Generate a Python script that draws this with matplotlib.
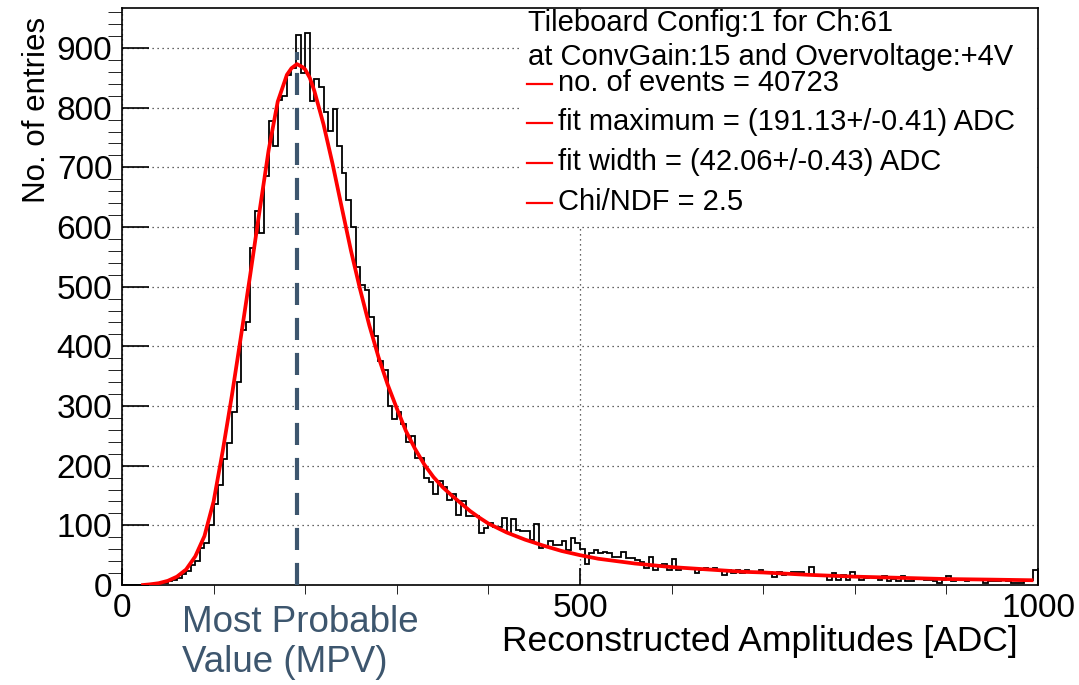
import matplotlib.pyplot as plt
import numpy as np
from matplotlib.patches import Rectangle

plt.rcParams['font.family'] = ['Liberation Sans', 'DejaVu Sans']

# histogram: 200 bins of 5 ADC from 0 to 1000
bin_width = 5
counts = [
    0, 0, 0, 0, 0, 1, 2, 2, 3, 4,
    6, 8, 11, 18, 24, 34, 40, 62, 70, 100,
    136, 168, 212, 238, 290, 340, 428, 440, 565, 626,
    590, 686, 778, 735, 812, 820, 855, 866, 921, 858,
    925, 811, 848, 834, 792, 761, 797, 735, 690, 645,
    600, 533, 502, 494, 449, 418, 375, 360, 300, 279,
    290, 270, 239, 250, 213, 213, 180, 172, 153, 174,
    165, 143, 153, 118, 140, 116, 115, 116, 87, 96,
    104, 98, 98, 112, 87, 111, 93, 90, 90, 76,
    103, 62, 66, 73, 67, 67, 73, 59, 79, 70,
    61, 36, 53, 59, 53, 56, 53, 47, 47, 56,
    46, 45, 42, 39, 28, 47, 25, 34, 36, 25,
    43, 25, 28, 28, 28, 20, 25, 28, 25, 28,
    25, 17, 25, 20, 25, 20, 25, 22, 20, 25,
    20, 22, 14, 22, 17, 20, 21, 21, 21, 17,
    31, 17, 17, 17, 8, 20, 8, 17, 8, 22,
    14, 8, 11, 13, 13, 8, 15, 7, 10, 7,
    15, 7, 6, 10, 10, 8, 8, 7, 4, 8,
    15, 7, 8, 10, 6, 10, 8, 8, 4, 7,
    7, 6, 8, 7, 4, 3, 3, 8, 8, 25,
]

# fitted curve
fit_x = [23, 30, 40, 50, 60, 70, 80, 90, 100, 110, 120, 130, 140, 150, 160,
         170, 180, 185, 191, 197, 200, 205, 210, 220, 230, 240, 250, 260, 270,
         280, 290, 300, 310, 320, 330, 340, 350, 360, 370, 380, 390, 400, 420,
         440, 460, 480, 500, 520, 540, 560, 580, 600, 620, 640, 660, 680, 700,
         750, 800, 850, 900, 950, 993]
fit_y = [0, 1, 3, 7, 14, 26, 48, 82, 140, 225, 318, 418, 520, 625, 728,
         810, 855, 866, 873, 868, 864, 850, 828, 772, 705, 632, 560, 495, 435,
         382, 336, 296, 258, 228, 202, 181, 164, 150, 137, 124, 113, 103, 88,
         76, 66, 57, 50, 44, 40, 36, 33, 30, 28, 26, 24, 22, 21,
         17, 14, 12, 10, 9, 8]

mpv = 191.13
mpv_top = 893

title_lines = ['Tileboard Config:1 for Ch:61', 'at ConvGain:15 and Overvoltage:+4V']
entry_lines = ['no. of events = 40723',
               'fit maximum = (191.13+/-0.41) ADC',
               'fit width = (42.06+/-0.43) ADC',
               'Chi/NDF = 2.5']

W, H = 1079, 685
fig = plt.figure(figsize=(W / 100, H / 100), dpi=100)
ax = fig.add_axes([122 / W, 1 - 585 / H, 916 / W, 577 / H])

edges = np.arange(len(counts) + 1) * bin_width
ax.stairs(counts, edges, color='black', lw=1.3, zorder=3)
ax.plot(fit_x, fit_y, color='red', lw=2.7, zorder=4)
ax.vlines(mpv, 0, mpv_top, colors='#3d566e', lw=3, linestyles=(0, (5.3, 3.1)), zorder=5)

ax.set_xlim(0, 1000)
ax.set_ylim(0, 967)
ax.set_xticks([0, 500, 1000])
ax.set_xticks(range(0, 1001, 100), minor=True)
ax.set_yticks(range(0, 901, 100))
ax.set_yticks(range(0, 961, 20), minor=True)
ax.tick_params(direction='in', top=False, right=False, labelsize=24, width=1.2)
ax.tick_params(axis='x', which='major', length=12.2, pad=6)
ax.tick_params(axis='x', which='minor', length=6.5)
ax.tick_params(axis='y', which='major', length=19.4, pad=7)
ax.tick_params(axis='y', which='minor', length=10)
for s in ax.spines.values():
    s.set_linewidth(1.2)

ax.set_axisbelow(True)
ax.grid(True, which='major', color='#333333', lw=0.9, linestyle=(0, (1, 3)))

ax.set_xlabel('Reconstructed Amplitudes [ADC]', fontsize=25.5, loc='right')
ax.xaxis.set_label_coords(0.978, -0.07)
ax.set_ylabel('No. of entries', fontsize=22.5, loc='top')
ax.yaxis.set_label_coords(-0.076, 0.985)

# legend area (white, no border)
ax.add_patch(Rectangle((0.437, 0.622), 0.56, 0.375, transform=ax.transAxes,
                       facecolor='white', edgecolor='none', zorder=1))

def fx(px):
    return px / W

def fy(py):
    return 1 - py / H

for txt, y in zip(title_lines, [23, 57]):
    fig.text(fx(528), fy(y), txt, fontsize=21, ha='left', va='center', zorder=6)
for txt, y in zip(entry_lines, [83, 122, 162, 202]):
    fig.text(fx(558), fy(y), txt, fontsize=21, ha='left', va='center', zorder=6)
    fig.add_artist(plt.Line2D([fx(527), fx(552)], [fy(y + 1), fy(y + 1)],
                              color='red', lw=1.6))

fig.text(fx(182), fy(605), 'Most Probable\nValue (MPV)', fontsize=26.5,
         color='#3d566e', ha='left', va='top', linespacing=1.2)

fig.savefig('out.png', dpi=100)
